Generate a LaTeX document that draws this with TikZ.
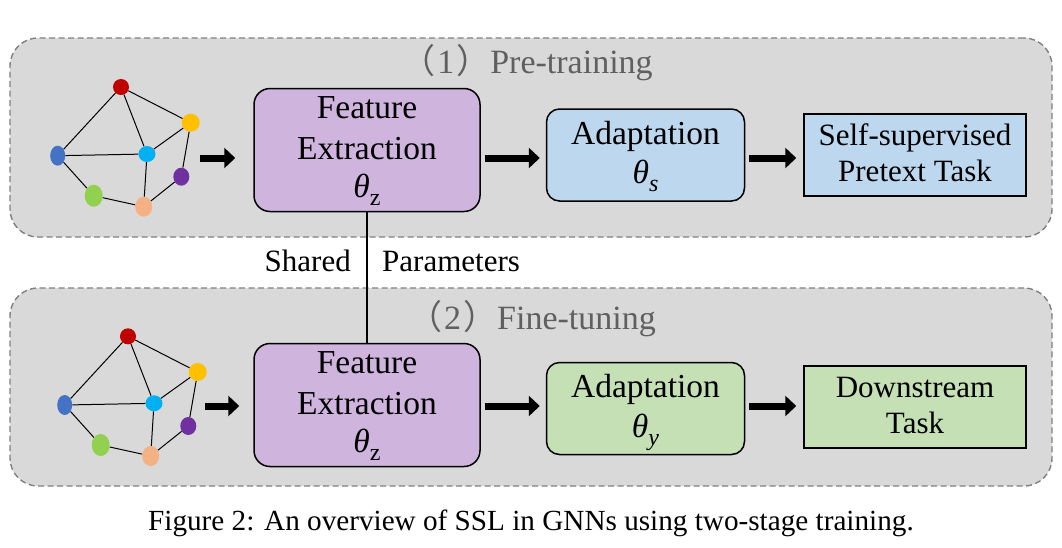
\documentclass[tikz,border=0pt]{standalone}
\usepackage{fontspec}
\setmainfont{Liberation Serif}
\newfontfamily\cjk{Noto Sans CJK SC}
\usetikzlibrary{arrows.meta,shapes.geometric}
\definecolor{panelfill}{RGB}{217,217,217}
\definecolor{paneldraw}{RGB}{128,128,128}
\definecolor{featfill}{RGB}{207,180,222}
\definecolor{bluefill}{RGB}{189,215,238}
\definecolor{greenfill}{RGB}{197,224,180}
\definecolor{titlegray}{RGB}{96,96,96}
\definecolor{nred}{RGB}{192,0,0}
\definecolor{nyellow}{RGB}{255,192,0}
\definecolor{nblue}{RGB}{68,114,196}
\definecolor{ncyan}{RGB}{0,176,240}
\definecolor{npurple}{RGB}{112,48,160}
\definecolor{ngreen}{RGB}{146,208,80}
\definecolor{norange}{RGB}{244,177,131}
\newcommand\thsub[1]{\raisebox{-8pt}{\fontsize{24}{24}\selectfont #1}}
\newcommand\mygraph[1]{%
  \node[gnode, fill=nred, minimum width=16pt, minimum height=16pt] (#1r) at (121,87) {};
  \node[gnode, fill=nyellow, minimum width=18pt, minimum height=18pt] (#1y) at (190.7,122.7) {};
  \node[gnode, fill=nblue, minimum width=15pt, minimum height=20pt] (#1b) at (57.7,155.7) {};
  \node[gnode, fill=ncyan, minimum width=17pt, minimum height=16pt] (#1c) at (147,154) {};
  \node[gnode, fill=npurple, minimum width=16pt, minimum height=18pt] (#1p) at (181.3,176.7) {};
  \node[gnode, fill=ngreen, minimum width=18pt, minimum height=22pt] (#1g) at (93.7,195.7) {};
  \node[gnode, fill=norange, minimum width=17pt, minimum height=20pt] (#1o) at (143.7,206.7) {};
}
\tikzset{
  panel/.style={draw=paneldraw, fill=panelfill, dash pattern=on 6pt off 3.5pt, line width=1.4pt, rounded corners=28pt, minimum width=1042pt, inner sep=0pt},
  boxbase/.style={draw=black, line width=1.5pt, inner sep=0pt},
  feat/.style={boxbase, fill=featfill, rounded corners=16pt, minimum width=226pt, minimum height=123pt},
  adapt/.style={boxbase, rounded corners=13pt, minimum width=198pt, minimum height=92pt},
  task/.style={boxbase, minimum width=222pt, minimum height=82pt},
  txt/.style={font=\fontsize{33.5}{33.5}\selectfont, anchor=base, inner sep=0pt},
  bigarrow/.style={line width=7pt, -{Triangle[length=11pt,width=20pt]}},
  gnode/.style={ellipse, inner sep=0pt, draw=none},
  gedge/.style={line width=1pt},
  ptitle/.style={text=titlegray, font=\fontsize{34}{34}\selectfont, anchor=base, inner sep=0pt},
  plain/.style={font=\fontsize{31}{31}\selectfont, anchor=base, inner sep=0pt},
  capt/.style={font=\fontsize{29.2}{30}\selectfont, anchor=base, inner sep=0pt},
}
\begin{document}
\begin{tikzpicture}[x=1pt,y=-1pt]
\useasboundingbox (0,0) rectangle (1062,547);
% panels
\node[panel, minimum height=199pt] (p1) at (531,137.5) {};
\node[panel, minimum height=198pt] (p2) at (531,387) {};
\node[ptitle] (t1) at (527,73.3) {{\cjk （}\hspace{2pt}1\hspace{2pt}{\cjk ）}Pre-training};
\node[ptitle] (t2) at (532,329) {{\cjk （}\hspace{2pt}2\hspace{2pt}{\cjk ）}Fine-tuning};
% boxes top
\node[feat] (fe1) at (367,150) {};
\node[txt] (fe1a) at (367,118.3) {Feature};
\node[txt] (fe1b) at (367,159) {Extraction};
\node[txt] (fe1c) at (367,197) {{\itshape θ}\thsub{z}};
\node[adapt, fill=bluefill] (ad1) at (645.5,155) {};
\node[txt] (ad1a) at (645.5,144) {Adaptation};
\node[txt] (ad1b) at (645.5,183.5) {{\itshape θ\thsub{s}}};
\node[task, fill=bluefill] (ts1) at (915,155) {};
\node[txt, font=\fontsize{31}{31}\selectfont] (ts1a) at (915,145) {Self-supervised};
\node[txt, font=\fontsize{31}{31}\selectfont] (ts1b) at (915,181) {Pretext Task};
% boxes bottom
\node[feat] (fe2) at (367,405) {};
\node[txt] (fe2a) at (367,373.3) {Feature};
\node[txt] (fe2b) at (367,414) {Extraction};
\node[txt] (fe2c) at (367,452) {{\itshape θ}\thsub{z}};
\node[adapt, fill=greenfill] (ad2) at (645.5,408.5) {};
\node[txt] (ad2a) at (645.5,397.5) {Adaptation};
\node[txt] (ad2b) at (645.5,437) {{\itshape θ\thsub{y}}};
\node[task, fill=greenfill] (ts2) at (915,407) {};
\node[txt, font=\fontsize{31}{31}\selectfont] (ts2a) at (915,397) {Downstream};
\node[txt, font=\fontsize{31}{31}\selectfont] (ts2b) at (915,433) {Task};
% graphs
\foreach \s/\dx/\dy in {g/0/0, h/7/249.3}{
  \begin{scope}[shift={(\dx,\dy)}]
    \mygraph{\s}
  \end{scope}
}
\foreach \s in {g,h}{
  \begin{scope}[gedge]
  \draw (\s r) -- (\s b);
  \draw (\s r) -- (\s c);
  \draw (\s r) -- (\s y);
  \draw (\s y) -- (\s c);
  \draw (\s y) -- (\s p);
  \draw (\s b) -- (\s c);
  \draw (\s b) -- (\s g);
  \draw (\s g) -- (\s o);
  \draw (\s c) -- (\s o);
  \draw (\s o) -- (\s p);
  \end{scope}
}
% arrows
\coordinate (ya) at (0,158);
\coordinate (yb) at (0,406);
\coordinate (ga) at (200,158);
\coordinate (gb) at (205,406);
\draw[bigarrow, shorten >=18pt] (ga) -- (ga -| fe1.west);
\draw[bigarrow, shorten <=4pt, shorten >=6pt] (fe1.east |- ya) -- (ad1.west |- ya);
\draw[bigarrow, shorten <=4pt, shorten >=7pt] (ad1.east |- ya) -- (ts1.west |- ya);
\draw[bigarrow, shorten >=14pt] (gb) -- (gb -| fe2.west);
\draw[bigarrow, shorten <=4pt, shorten >=6pt] (fe2.east |- yb) -- (ad2.west |- yb);
\draw[bigarrow, shorten <=4pt, shorten >=7pt] (ad2.east |- yb) -- (ts2.west |- yb);
% shared parameters
\draw[line width=2.5pt] (fe1.south) -- (fe2.north);
\node[plain, anchor=base east] (sh) at (351,271) {Shared};
\node[plain, anchor=base west] (pa) at (382,271) {Parameters};
% caption
\node[capt] (cap) at (531,530) {Figure 2: An overview of SSL in GNNs using two-stage training.};
\end{tikzpicture}
\end{document}
